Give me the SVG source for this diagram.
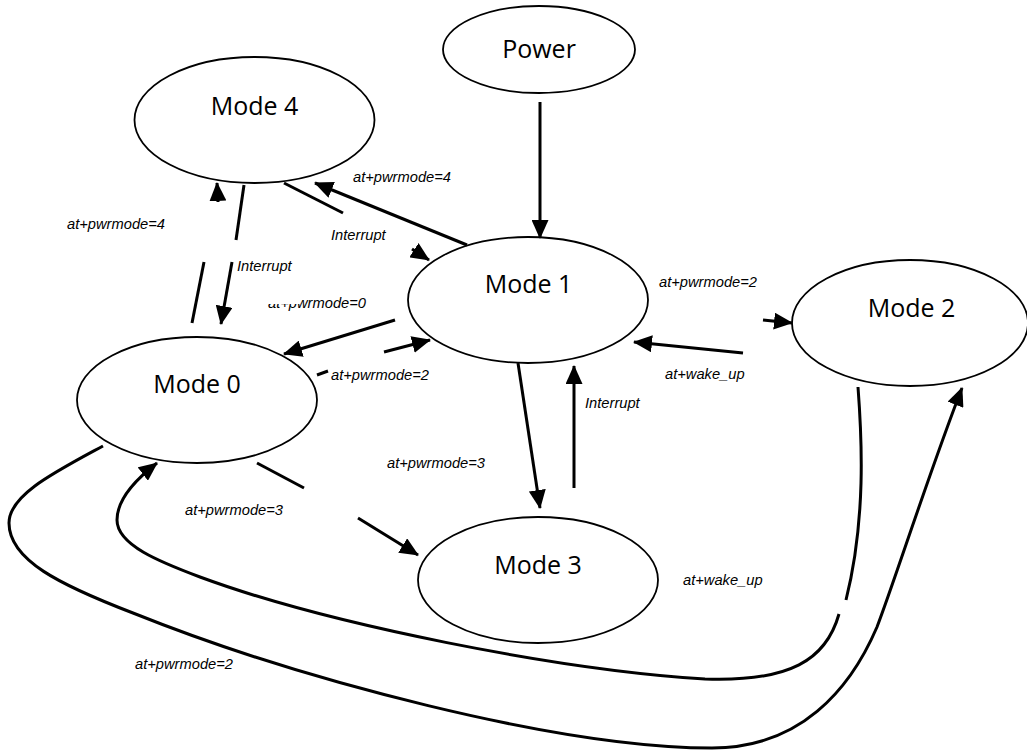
<svg xmlns="http://www.w3.org/2000/svg" width="1027" height="751" viewBox="0 0 1027 751">
<style>
.node ellipse{fill:#fff;stroke:#000;stroke-width:1.8}
.node text{font-family:"Open Sans","Noto Sans",sans-serif;font-size:25px;fill:#000;text-anchor:middle}
.edge{fill:none;stroke:#000;stroke-width:3}
.arr{marker-end:url(#ah)}
.lbl{font-family:"Liberation Sans",Arial,sans-serif;font-style:italic;font-size:14.7px;fill:#000}
</style>
<defs>
<marker id="ah" markerUnits="userSpaceOnUse" markerWidth="19" markerHeight="17" refX="18" refY="8.5" orient="auto" viewBox="0 0 19 17">
<path d="M0,0 L19,8.5 L0,17 z" fill="#000"/>
</marker>
<clipPath id="clip0">
<path d="M260,304 L300,304 L300,285 L380,285 L380,320 L260,320 z"/>
</clipPath>
</defs>
<rect width="1027" height="751" fill="#fff"/>
<g id="nodes">
<g id="power" class="node"><ellipse cx="539" cy="49.5" rx="96" ry="43.5"/><text x="539" y="58">Power</text></g>
<g id="mode4" class="node"><ellipse cx="254.5" cy="120" rx="120" ry="63"/><text x="254.5" y="115">Mode 4</text></g>
<g id="mode1" class="node"><ellipse cx="528" cy="300" rx="120" ry="63"/><text x="528.5" y="293">Mode 1</text></g>
<g id="mode0" class="node"><ellipse cx="197" cy="400" rx="120" ry="63"/><text x="197" y="393">Mode 0</text></g>
<g id="mode2" class="node"><ellipse cx="910" cy="323" rx="118" ry="63"/><text x="911.5" y="317">Mode 2</text></g>
<g id="mode3" class="node"><ellipse cx="538" cy="580" rx="120" ry="63"/><text x="538" y="574">Mode 3</text></g>
</g>
<g id="connectors">
<path class="edge arr" d="M540,102 L540,238"/>
<path class="edge arr" d="M467,245 L315,183"/>
<path class="edge" d="M284,183 L343,213"/>
<path class="edge arr" d="M412,249 L429,260"/>
<path class="edge" d="M192,323 L204,262"/>
<path class="edge arr" d="M218,202 L217,183"/>
<path class="edge" d="M244,185 L236,240"/>
<path class="edge arr" d="M232,262 L221,324"/>
<path class="edge arr" d="M395,320 L284,354"/>
<path class="edge" d="M317,375 L328,371"/>
<path class="edge arr" d="M384,352 L430,340"/>
<path class="edge arr" d="M763,320 L792,323"/>
<path class="edge arr" d="M743,353 L634,342"/>
<path class="edge arr" d="M518,363 L540,508"/>
<path class="edge arr" d="M574,488 L574,366"/>
<path class="edge" d="M257,463 L304,488"/>
<path class="edge arr" d="M358,518 L418,555"/>
<path class="edge" d="M858,387 C862,440 866,520 846,600"/>
<path class="edge arr" d="M839,614 C826,660 790,682 705,679 C560,670 330,625 200,577 C160,562 117,545 117,520 C117,500 135,480 157,463"/>
<path class="edge arr" d="M103,446 C55,472 9,495 9,523 C9,560 60,585 133,613 C300,680 560,748 712,748 C800,748 850,690 877,627 C895,580 930,470 962,388"/>
</g>
<g id="labels">
<text class="lbl" x="353" y="182">at+pwrmode=4</text>
<text class="lbl" x="67" y="229">at+pwrmode=4</text>
<text class="lbl" x="331" y="240">Interrupt</text>
<text class="lbl" x="237" y="271">Interrupt</text>
<text class="lbl" x="268" y="308" clip-path="url(#clip0)">at+pwrmode=0</text>
<text class="lbl" x="331" y="380">at+pwrmode=2</text>
<text class="lbl" x="659" y="287">at+pwrmode=2</text>
<text class="lbl" x="665" y="379">at+wake_up</text>
<text class="lbl" x="585" y="408">Interrupt</text>
<text class="lbl" x="387" y="468">at+pwrmode=3</text>
<text class="lbl" x="185" y="515">at+pwrmode=3</text>
<text class="lbl" x="683" y="585">at+wake_up</text>
<text class="lbl" x="135" y="669">at+pwrmode=2</text>
</g>
</svg>
